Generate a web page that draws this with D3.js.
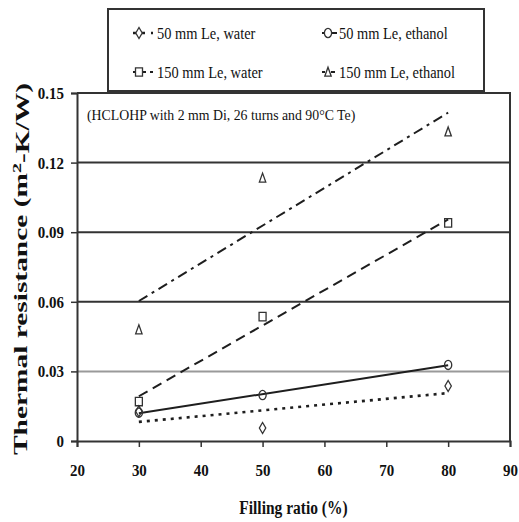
<!DOCTYPE html>
<html>
<head>
<meta charset="utf-8">
<script src="https://cdn.jsdelivr.net/npm/d3@7"></script>
<style>
  body { margin: 0; background: #fff; }
  svg text { font-family: "Liberation Serif", "DejaVu Serif", serif; fill: #111; }
</style>
</head>
<body>
<div id="chart"></div>
<script>
"use strict"

//-----------------------------DATA-----------------------------//
const fillingRatio = [30, 50, 80];
const water50 = [0.0128, 0.0056, 0.0237];
const ethanol50 = [0.0122, 0.0198, 0.0328];
const water150 = [0.0170, 0.0536, 0.0940];
const ethanol150 = [0.0480, 0.1134, 0.1333];
const seriesNames = ["50 mm Le, water", "50 mm Le, ethanol", "150 mm Le, water", "150 mm Le, ethanol"];
const xTicks = [20, 30, 40, 50, 60, 70, 80, 90];
const yTicks = [0, 0.03, 0.06, 0.09, 0.12, 0.15];
const yTickLabels = ["0", "0.03", "0.06", "0.09", "0.12", "0.15"];
const note = "(HCLOHP with 2 mm Di, 26 turns and 90\u00B0C Te)";

//------------------------1. PREPARATION------------------------//
const width = 519;
const height = 522;
const plot = { left: 77, right: 510, top: 93, bottom: 441 };

const svg = d3.select("#chart").append("svg")
    .attr("width", width)
    .attr("height", height);

const xScale = d3.scaleLinear().domain([20, 90]).range([plot.left, plot.right]);
const yScale = d3.scaleLinear().domain([0, 0.15]).range([plot.bottom, plot.top]);

// series styles: marker shape + line pattern
const series = [
    { name: seriesNames[0], values: water50, marker: "diamond", dash: "3,5", lw: 2.6 },
    { name: seriesNames[1], values: ethanol50, marker: "circle", dash: null, lw: 2 },
    { name: seriesNames[2], values: water150, marker: "square", dash: "10,6", lw: 2 },
    { name: seriesNames[3], values: ethanol150, marker: "triangle", dash: "10,5,3,5", lw: 2 }
];

// least squares trend line through each series
const trend = (xs, ys) => {
    const mx = d3.mean(xs), my = d3.mean(ys);
    const sxy = d3.sum(xs, (x, i) => (x - mx) * (ys[i] - my));
    const sxx = d3.sum(xs, x => (x - mx) * (x - mx));
    const b = sxy / sxx;
    const a = my - b * mx;
    const x0 = d3.min(xs), x1 = d3.max(xs);
    return [[x0, a + b * x0], [x1, a + b * x1]];
};

const markerPath = (type) => {
    switch (type) {
        case "diamond": return "M0,-5.5L3.2,0L0,5.5L-3.2,0Z";
        case "square": return "M-3.5,-4.2H3.5V4.2H-3.5Z";
        case "triangle": return "M0,-4.8L3.2,4.2H-3.2Z";
        default: return "M-3.6,0A3.6,4.6 0 1,0 3.6,0A3.6,4.6 0 1,0 -3.6,0Z";
    }
};

// squeeze text horizontally (the source picture is condensed)
const condense = (sel, k) => sel.each(function () {
    const w = this.getComputedTextLength();
    d3.select(this).attr("textLength", w * k).attr("lengthAdjust", "spacingAndGlyphs");
});

//-------------------------2. DRAWING---------------------------//
// gridlines
svg.append("g").selectAll("line")
    .data(yTicks.filter(d => d > 0 && d < 0.15))
    .join("line")
    .attr("x1", plot.left).attr("x2", plot.right)
    .attr("y1", d => yScale(d)).attr("y2", d => yScale(d))
    .attr("stroke", d => d === 0.03 ? "#9a9a9a" : "#333")
    .attr("stroke-width", 2);

// frame (top + right)
svg.append("path")
    .attr("d", `M${plot.left},${plot.top}H${plot.right}V${plot.bottom}`)
    .attr("fill", "none").attr("stroke", "#333").attr("stroke-width", 2);

// axes
const xaxis = d3.axisBottom(xScale).tickValues(xTicks).tickSize(6).tickFormat(d3.format("d"));
const yaxis = d3.axisLeft(yScale).tickValues(yTicks).tickSize(6).tickFormat((d, i) => yTickLabels[i]);

const xg = svg.append("g")
    .attr("transform", `translate(0,${plot.bottom})`)
    .call(xaxis);
const yg = svg.append("g")
    .attr("transform", `translate(${plot.left},0)`)
    .call(yaxis);

[xg, yg].forEach(g => {
    g.select(".domain").attr("stroke", "#333").attr("stroke-width", 2);
    g.selectAll(".tick line").attr("stroke", "#333").attr("stroke-width", 1.5);
    g.selectAll(".tick text")
        .style("font-family", "'Liberation Serif', serif")
        .style("font-size", "17px")
        .style("font-weight", "bold")
        .attr("fill", "#111");
});
xg.selectAll(".tick text").attr("dy", "0.71em").attr("y", 23);
yg.selectAll(".tick text").attr("x", -13);
condense(xg.selectAll(".tick text"), 0.88);
condense(yg.selectAll(".tick text"), 0.88);

// axis titles
svg.append("text")
    .attr("x", (plot.left + plot.right) / 2)
    .attr("y", 508)
    .attr("dy", "0.35em")
    .attr("text-anchor", "middle")
    .style("font-size", "18px")
    .style("font-weight", "bold")
    .text("Filling ratio (%)")
    .call(condense, 0.86);

const yTitle = svg.append("text")
    .attr("transform", `translate(20,${(plot.top + plot.bottom) / 2 + 2}) rotate(-90)`)
    .attr("dy", "0.35em")
    .attr("text-anchor", "middle")
    .style("font-size", "19px")
    .style("font-weight", "bold")
    .style("fill", "#111")
    .attr("textLength", 372)
    .attr("lengthAdjust", "spacingAndGlyphs");
yTitle.append("tspan").text("Thermal resistance (m");
yTitle.append("tspan").attr("dy", "-0.45em").style("font-size", "13px").text("2");
yTitle.append("tspan").attr("dy", "0.45em").text("-K/W)");

// note inside plot
svg.append("text")
    .attr("x", 87).attr("y", 115)
    .attr("dy", "0.35em")
    .style("font-size", "15px")
    .text(note)
    .call(condense, 0.92);

// trend lines
const line = d3.line().x(d => xScale(d[0])).y(d => yScale(d[1]));
svg.append("g").selectAll("path")
    .data(series)
    .join("path")
    .attr("d", s => line(trend(fillingRatio, s.values)))
    .attr("fill", "none")
    .attr("stroke", "#1e1e1e")
    .attr("stroke-width", s => s.lw)
    .attr("stroke-dasharray", s => s.dash);

// markers
series.forEach(s => {
    svg.append("g").selectAll("path")
        .data(s.values)
        .join("path")
        .attr("transform", (d, i) => `translate(${xScale(fillingRatio[i])},${yScale(d)})`)
        .attr("d", markerPath(s.marker))
        .attr("fill", "none")
        .attr("stroke", "#333")
        .attr("stroke-width", 1.3);
});

//-----------------------------LEGEND---------------------------//
const legend = svg.append("g");
legend.append("rect")
    .attr("x", 108).attr("y", 9)
    .attr("width", 376).attr("height", 82)
    .attr("fill", "#fff")
    .attr("stroke", "#333")
    .attr("stroke-width", 2);

const legendPos = [[133, 33], [322, 33], [133, 72], [322, 72]];
series.forEach((s, i) => {
    const [lx, ly] = legendPos[i];
    const left = i % 2 === 0;
    const len = left ? 20 : 15;
    const item = legend.append("g").attr("transform", `translate(${lx},${ly})`);
    item.append("line")
        .attr("x1", 0).attr("x2", len)
        .attr("stroke", "#1e1e1e")
        .attr("stroke-width", s.lw)
        .attr("stroke-dasharray", s.dash ? (s.marker === "diamond" ? "3,6" : "3,6,4,4") : null);
    item.append("path")
        .attr("transform", "translate(6,0)")
        .attr("d", markerPath(s.marker))
        .attr("fill", "#fff")
        .attr("stroke", "#333")
        .attr("stroke-width", 1.3);
    item.append("text")
        .attr("x", left ? 24 : 17)
        .attr("dy", "0.35em")
        .style("font-size", "16px")
        .text(s.name)
        .call(condense, 0.9);
});
</script>
</body>
</html>
